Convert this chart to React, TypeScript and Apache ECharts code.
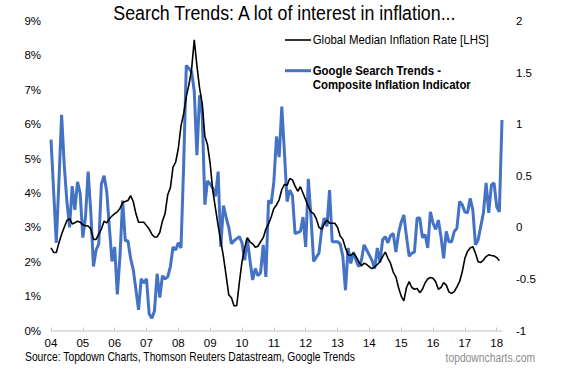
import React, { useEffect, useRef } from "react";
import * as echarts from "echarts";

// Monthly, Jan 2004 onward
const yearLabels = ["04", "05", "06", "07", "08", "09", "10", "11", "12", "13", "14", "15", "16", "17", "18"];

// Global Median Inflation Rate (%), LHS
const inflation = [
  2.40, 2.27, 2.27, 2.55, 2.80, 3.00, 3.20, 3.25, 3.10, 3.13, 3.18, 3.15,
  3.07, 3.05, 3.04, 2.95, 2.65, 2.65, 2.80, 2.95, 3.18, 3.13, 3.25, 3.33,
  3.40, 3.45, 3.55, 3.72, 3.75, 3.78, 3.92, 3.75, 3.40, 3.15, 3.15, 3.15,
  3.05, 2.95, 2.80, 2.72, 2.72, 2.85, 3.18, 3.40, 3.95, 4.15, 4.75, 4.90,
  5.30, 5.95, 6.30, 6.80, 7.15, 7.60, 8.45, 7.70, 7.05, 6.60, 5.65, 5.40,
  4.85, 4.05, 3.55, 3.05, 2.60, 2.15, 1.60, 1.04, 0.95, 0.72, 0.72, 1.40,
  2.00, 2.40, 2.70, 2.58, 2.52, 2.42, 2.45, 2.58, 2.70, 2.95, 3.10, 3.30,
  3.55, 3.65, 3.80, 4.10, 4.25, 4.22, 4.42, 4.38, 4.20, 4.05, 4.18, 3.99,
  3.80, 3.60, 3.45, 3.40, 3.25, 3.00, 2.95, 3.10, 3.21, 3.12, 3.12, 3.12,
  3.00, 2.75, 2.65, 2.40, 2.20, 2.18, 2.25, 2.15, 2.00, 1.88, 1.96, 1.92,
  1.85, 1.80, 1.85, 1.92, 2.00, 2.15, 2.28, 2.10, 1.95, 1.70, 1.56, 1.25,
  1.00, 0.86, 1.25, 1.42, 1.25, 1.20, 1.22, 1.10, 1.20, 1.38, 1.50, 1.54,
  1.52, 1.42, 1.20, 1.25, 1.39, 1.32, 1.12, 1.08, 1.13, 1.27, 1.42, 1.70,
  2.10, 2.30, 2.40, 2.44, 2.25, 2.00, 1.98, 2.05, 2.15, 2.20, 2.18, 2.17,
  2.12, 2.03,
];

// Google Search Trends - Composite Inflation Indicator, RHS
const searchTrends = [
  0.85, 0.35, -0.15, 0.45, 1.09, 0.60, 0.25, 0.00, 0.40, 0.17, 0.44, 0.33,
  -0.10, 0.10, 0.54, 0.15, -0.38, -0.22, -0.16, 0.42, 0.50, 0.35, 0.00, -0.33,
  -0.19, -0.65, -0.28, 0.26, -0.13, -0.13, -0.30, -0.41, -0.60, -0.80, -0.50, -0.54,
  -0.50, -0.84, -0.88, -0.81, -0.45, -0.68, -0.47, -0.50, -0.48, -0.38, -0.19, -0.22,
  -0.15, -0.20, 0.60, 1.57, 1.54, 1.51, 1.32, 0.70, 1.28, 1.10, 0.22, 0.45,
  0.42, 0.38, 0.30, 0.54, -0.19, 0.21, 0.10, 0.00, -0.16, -0.13, -0.11, -0.09,
  -0.15, -0.32, -0.11, -0.32, -0.51, -0.40, -0.47, -0.44, -0.17, -0.48, 0.26, 0.23,
  0.44, 0.88, 0.68, 1.17, 0.72, 0.25, 0.36, 0.31, -0.06, -0.05, -0.04, 0.10,
  -0.19, 0.47, 0.10, -0.33, -0.29, -0.25, -0.03, 0.09, 0.01, 0.36, -0.14, -0.14,
  -0.14, -0.16, -0.28, -0.61, -0.20, -0.35, -0.24, -0.32, -0.38, -0.32, -0.17, -0.22,
  -0.27, -0.32, -0.40, -0.20, -0.34, -0.12, -0.09, -0.15, -0.08, -0.06, -0.24, -0.06,
  0.05, 0.12, -0.09, -0.28, -0.25, -0.24, 0.09, 0.09, -0.10, -0.07, -0.20, 0.15,
  0.04, -0.02, 0.07, -0.09, -0.30, -0.04, -0.14, -0.14, -0.04, -0.01, 0.25, 0.22,
  0.15, 0.14, 0.28, 0.17, -0.17, -0.12, 0.01, 0.14, 0.43, 0.14, 0.41, 0.43,
  0.20, 0.15, 1.04,
];

const leftTicks = { min: 0, max: 9, interval: 1 };
const rightTicks = { min: -1, max: 2, interval: 0.5 };

const FONT = "'Liberation Sans', Arial, sans-serif";
const BLUE = "#4472C4";

export default function App() {
  const ref = useRef<HTMLDivElement>(null);

  useEffect(() => {
    if (!ref.current) return;
    const chart = echarts.init(ref.current, null, { renderer: "svg" });
    const n = searchTrends.length;
    const cats = Array.from({ length: n }, (_, i) =>
      i % 12 === 0 ? yearLabels[i / 12] ?? "" : ""
    );

    chart.setOption({
      animation: false,
      backgroundColor: "#ffffff",
      textStyle: { fontFamily: FONT },
      grid: { left: 51, right: 72, top: 21, bottom: 44.5 },
      xAxis: {
        type: "category",
        data: cats,
        boundaryGap: false,
        axisLine: { show: true, lineStyle: { color: "#d6d6d6", width: 1.5 } },
        axisTick: {
          show: true,
          inside: true,
          length: 3,
          interval: (i: number) => i % 12 === 0,
          lineStyle: { color: "#c4c4c4", width: 1 },
        },
        axisLabel: {
          interval: (i: number) => i % 12 === 0,
          color: "#000",
          fontSize: 11.5,
          fontFamily: FONT,
          margin: 6,
        },
        splitLine: { show: false },
      },
      yAxis: [
        {
          type: "value",
          position: "left",
          min: leftTicks.min,
          max: leftTicks.max,
          interval: leftTicks.interval,
          axisLine: { show: false },
          axisTick: { show: false },
          splitLine: { show: false },
          axisLabel: {
            formatter: (v: number) => `${v}%`,
            color: "#000",
            fontSize: 11.5,
            fontFamily: FONT,
            margin: 10,
          },
        },
        {
          type: "value",
          position: "right",
          min: rightTicks.min,
          max: rightTicks.max,
          interval: rightTicks.interval,
          axisLine: { show: false },
          axisTick: { show: false },
          splitLine: { show: false },
          axisLabel: {
            color: "#000",
            fontSize: 11.5,
            fontFamily: FONT,
            margin: 14,
          },
        },
      ],
      series: [
        {
          name: "Google Search Trends - Composite Inflation Indicator",
          type: "line",
          yAxisIndex: 1,
          data: searchTrends,
          symbol: "none",
          lineStyle: { color: BLUE, width: 3 },
          z: 2,
        },
        {
          name: "Global Median Inflation Rate [LHS]",
          type: "line",
          yAxisIndex: 0,
          data: inflation,
          symbol: "none",
          lineStyle: { color: "#000000", width: 1.6 },
          z: 3,
        },
      ],
      graphic: [
        {
          type: "text",
          x: 284.4,
          y: 13.5,
          scaleX: 0.89,
          style: {
            text: "Search Trends: A lot of interest in inflation...",
            fontFamily: FONT,
            fontSize: 20,
            fill: "#000",
            align: "center",
            verticalAlign: "middle",
          },
        },
        {
          type: "line",
          shape: { x1: 285, y1: 40, x2: 311, y2: 40 },
          style: { stroke: "#000", lineWidth: 1.6 },
        },
        {
          type: "text",
          x: 312.7,
          y: 40,
          scaleX: 0.88,
          style: {
            text: "Global Median Inflation Rate [LHS]",
            fontFamily: FONT,
            fontSize: 13,
            fill: "#000",
            align: "left",
            verticalAlign: "middle",
          },
        },
        {
          type: "line",
          shape: { x1: 285, y1: 70.7, x2: 311, y2: 70.7 },
          style: { stroke: BLUE, lineWidth: 3 },
        },
        {
          type: "text",
          x: 312.7,
          y: 70.7,
          scaleX: 0.88,
          style: {
            text: "Google Search Trends -",
            fontFamily: FONT,
            fontSize: 13,
            fontWeight: "bold",
            fill: "#000",
            align: "left",
            verticalAlign: "middle",
          },
        },
        {
          type: "text",
          x: 312.7,
          y: 84.5,
          scaleX: 0.88,
          style: {
            text: "Composite Inflation Indicator",
            fontFamily: FONT,
            fontSize: 13,
            fontWeight: "bold",
            fill: "#000",
            align: "left",
            verticalAlign: "middle",
          },
        },
        {
          type: "text",
          x: 25,
          y: 357,
          scaleX: 0.86,
          style: {
            text: "Source: Topdown Charts, Thomson Reuters Datastream, Google Trends",
            fontFamily: FONT,
            fontSize: 12,
            fill: "#000",
            align: "left",
            verticalAlign: "middle",
          },
        },
        {
          type: "text",
          x: 535,
          y: 358,
          scaleX: 0.86,
          style: {
            text: "topdowncharts.com",
            fontFamily: FONT,
            fontSize: 12,
            fill: "#8c8c8c",
            align: "right",
            verticalAlign: "middle",
          },
        },
      ],
    });

    return () => chart.dispose();
  }, []);

  return (
    <div
      ref={ref}
      style={{ position: "fixed", left: 0, top: 0, width: 574, height: 375, background: "#fff" }}
    />
  );
}
